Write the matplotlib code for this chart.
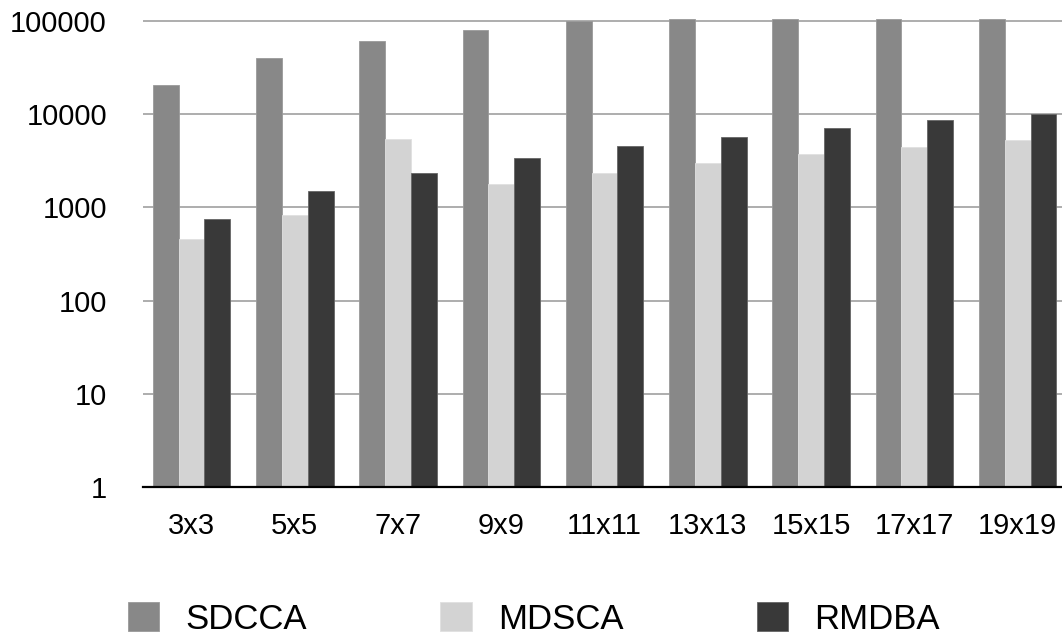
import matplotlib
matplotlib.use('Agg')
import matplotlib.pyplot as plt
import numpy as np

plt.rcParams['font.family'] = ['Liberation Sans', 'DejaVu Sans']

# Data (log scale)
sizes = ['3x3', '5x5', '7x7', '9x9', '11x11', '13x13', '15x15', '17x17', '19x19']
sdcca = [20400, 40300, 60800, 80400, 100000, 104000, 104000, 104000, 104000]
mdsca = [455, 837, 5460, 1800, 2360, 2990, 3710, 4440, 5240]
rmdba = [758, 1500, 2360, 3390, 4520, 5730, 7160, 8570, 10100]

fig = plt.figure(figsize=(10.62, 6.34), dpi=100)
ax = fig.add_axes([143 / 1062, (634 - 487) / 634, 1 - 143 / 1062,
                   (487 - 19) / 634])

x = np.arange(len(sizes))
w = 0.25
b1 = ax.bar(x - w, sdcca, w, color='#888888', edgecolor='#9a9a9a',
            linewidth=0.6, zorder=3, label='SDCCA')
b2 = ax.bar(x, mdsca, w, color='#d3d3d3', edgecolor='#e0e0e0',
            linewidth=0.6, zorder=3, label='MDSCA')
b3 = ax.bar(x + w, rmdba, w, color='#393939', edgecolor='#666666',
            linewidth=0.6, zorder=3, label='RMDBA')

ax.set_yscale('log')
ax.set_ylim(1, 105000)
ax.set_xlim(-0.47, 8.43)
ax.set_yticks([1, 10, 100, 1000, 10000, 100000])
ax.set_yticklabels(['1', '10', '100', '1000', '10000', '100000'])
ax.minorticks_off()
ax.set_xticks(x)
ax.set_xticklabels(sizes)

# Grid and spines
ax.yaxis.grid(True, color='#a0a0a0', linewidth=1.2, zorder=0)
ax.set_axisbelow(True)
for s in ['top', 'right', 'left']:
    ax.spines[s].set_visible(False)
ax.spines['bottom'].set_color('black')
ax.spines['bottom'].set_linewidth(1.6)
ax.spines['bottom'].set_zorder(4)
ax.tick_params(axis='both', length=0, labelsize=21)
ax.tick_params(axis='y', pad=26)
ax.tick_params(axis='x', pad=18)

# Legend at the bottom
fig.legend(handles=[b1, b2, b3], loc='center left',
           bbox_to_anchor=(128 / 1062, (634 - 619) / 634),
           ncol=3, frameon=False, fontsize=25, handlelength=0.9,
           handleheight=0.9, handletextpad=0.75, columnspacing=3.85,
           borderpad=0, borderaxespad=0)

fig.savefig('out.png', dpi=100)
